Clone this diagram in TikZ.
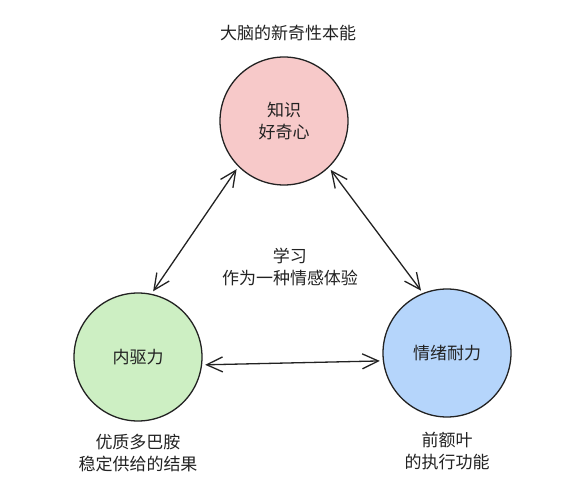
\documentclass[tikz,border=0pt]{standalone}
\usepackage{fontspec}
\setmainfont{Noto Sans CJK SC}
\usetikzlibrary{arrows.meta}
\definecolor{pinkfill}{HTML}{F7C9C9}
\definecolor{greenfill}{HTML}{CDEFC3}
\definecolor{bluefill}{HTML}{B5D5FB}
\definecolor{ink}{HTML}{222222}
\begin{document}
\begin{tikzpicture}[x=1pt,y=-1pt,
  bubble/.style={circle,draw=ink,line width=1.3pt,minimum size=128pt,inner sep=0pt,text=ink,font=\fontsize{17}{22}\selectfont,align=center},
  label/.style={text=ink,font=\fontsize{17}{22}\selectfont,align=center},
  link/.style={draw=ink,line width=1.3pt,{Straight Barb[length=16pt,width=15pt]}-{Straight Barb[length=16pt,width=15pt]},shorten <=3pt,shorten >=3pt}]
\useasboundingbox (0,0) rectangle (574,500);
\node[bubble,fill=pinkfill] (top) at (284,121) {知识\\好奇心};
\node[bubble,fill=greenfill] (left) at (138,357) {内驱力};
\node[bubble,fill=bluefill] (right) at (447,353) {情绪耐力};
\node[label] (title) at (288,33) {大脑的新奇性本能};
\node[label] (mid) at (290,267) {学习\\作为一种情感体验};
\node[label] (lnote) at (138,453) {优质多巴胺\\稳定供给的结果};
\node[label] (rnote) at (447,451) {前额叶\\的执行功能};
\draw[link] (top.225) -- (left.78);
\draw[link] (top.314) -- (right.112);
\draw[link] (left.-7) -- (right.187);
\end{tikzpicture}
\end{document}
